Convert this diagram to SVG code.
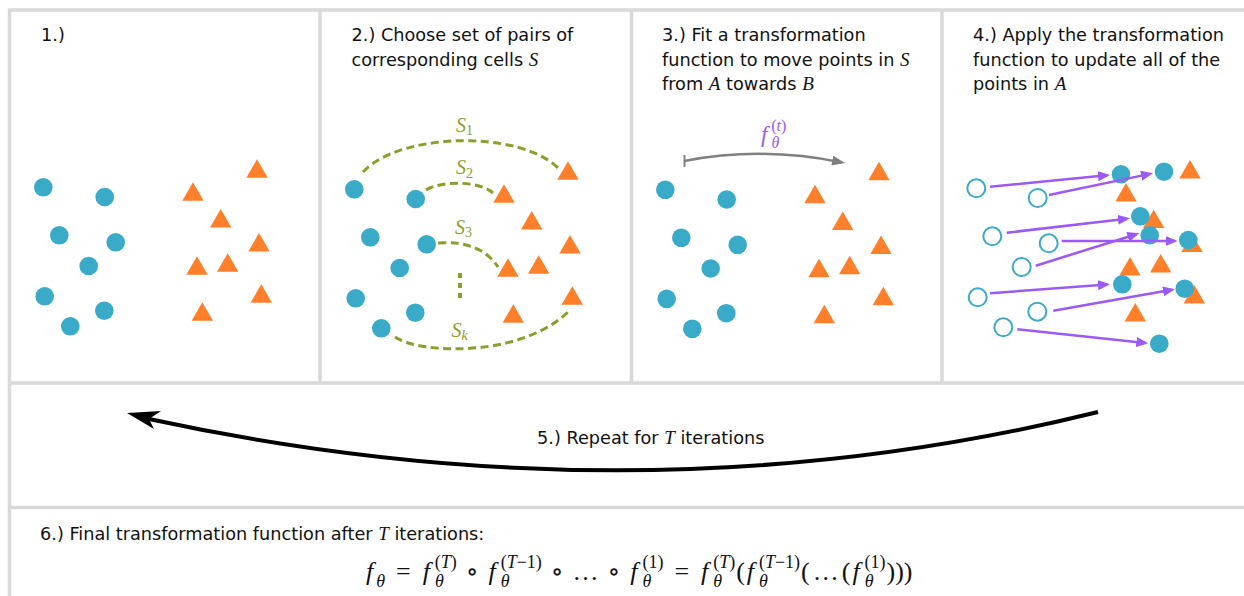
<svg xmlns="http://www.w3.org/2000/svg" xmlns:xlink="http://www.w3.org/1999/xlink" width="1244" height="596" viewBox="0 0 1244 596">
<style>
.txt{font-family:"DejaVu Sans",Verdana,sans-serif;font-size:17.7px;fill:#111}
.mi{font-family:"Liberation Serif","DejaVu Serif",serif;font-style:italic}
.mth{font-family:"Liberation Serif","DejaVu Serif",serif;font-size:26px;fill:#111}
.sb{font-size:18px}
.pt{fill:#39abc9}
.hol{fill:#fff;stroke:#39abc9;stroke-width:2}
.tri{fill:#ff7f2a}
.brd{stroke:#d9d9d9;stroke-width:3.5;fill:none}
.grn{fill:none;stroke:#8c9d2c;stroke-width:3;stroke-dasharray:8 4.5}
.gl{font-family:"Liberation Serif","DejaVu Serif",serif;font-size:20px;fill:#8c9d2c}
.pa{stroke:#9b59f6;stroke-width:2.5;fill:none;marker-end:url(#ph)}
</style>
<defs>
<path id="tr" d="M0,0 L10.7,18.4 L-10.7,18.4 Z"/>
<marker id="ph" markerWidth="12" markerHeight="10" refX="9" refY="5" orient="auto" markerUnits="userSpaceOnUse">
<path d="M0,0 L12,5 L0,10 Z" fill="#9b59f6"/>
</marker>
<marker id="gh" markerWidth="14" markerHeight="10" refX="10" refY="5" orient="auto" markerUnits="userSpaceOnUse">
<path d="M0,0 L13,5 L0,10 Z" fill="#808080"/>
</marker>
</defs>
<rect width="1244" height="596" fill="#fff"/>
<g id="frame">
<path class="brd" d="M9.5,600 V10 H1250"/>
<path class="brd" d="M8,383 H1250 M8,507.5 H1250"/>
<path class="brd" d="M320,10 V383 M631.5,10 V383 M942,10 V383"/>
</g>
<g id="panel1">
<text class="txt" x="41" y="41">1.)</text>
<g class="pt">
<circle cx="43.3" cy="187.3" r="9.3"/><circle cx="104.7" cy="197" r="9.3"/><circle cx="59.3" cy="235.3" r="9.3"/><circle cx="115.7" cy="242.3" r="9.3"/><circle cx="88.7" cy="266" r="9.3"/><circle cx="44.7" cy="296.3" r="9.3"/><circle cx="104.3" cy="310.7" r="9.3"/><circle cx="70.3" cy="326.3" r="9.3"/>
</g>
<g class="tri">
<use xlink:href="#tr" x="257" y="159.3"/><use xlink:href="#tr" x="193" y="182.3"/><use xlink:href="#tr" x="220.7" y="209"/><use xlink:href="#tr" x="259" y="233"/><use xlink:href="#tr" x="197" y="256.3"/><use xlink:href="#tr" x="227.7" y="253.3"/><use xlink:href="#tr" x="261.3" y="284.3"/><use xlink:href="#tr" x="202.3" y="302.3"/>
</g>
</g>
<g id="panel2">
<text class="txt" x="351.5" y="41">2.) Choose set of pairs of</text>
<text class="txt" x="351.5" y="65.5">corresponding cells <tspan class="mi" font-size="19">S</tspan></text>
<g class="pt">
<circle cx="354.3" cy="189.3" r="9.3"/><circle cx="415.7" cy="199" r="9.3"/><circle cx="370.3" cy="237.3" r="9.3"/><circle cx="426.7" cy="244.3" r="9.3"/><circle cx="399.7" cy="268" r="9.3"/><circle cx="355.7" cy="298.3" r="9.3"/><circle cx="415.3" cy="312.7" r="9.3"/><circle cx="381.3" cy="328.3" r="9.3"/>
</g>
<g class="tri">
<use xlink:href="#tr" x="568" y="161.3"/><use xlink:href="#tr" x="504" y="184.3"/><use xlink:href="#tr" x="531.7" y="211"/><use xlink:href="#tr" x="570" y="235"/><use xlink:href="#tr" x="508" y="258.3"/><use xlink:href="#tr" x="538.7" y="255.3"/><use xlink:href="#tr" x="572.3" y="286.3"/><use xlink:href="#tr" x="513.3" y="304.3"/>
</g>
<g id="pairs">
<path class="grn" d="M363,172 C400,132 520,130 558,168"/>
<path class="grn" d="M426,190 C440,181 478,180 493,193"/>
<path class="grn" d="M438,243 Q480,240 498,267"/>
<path class="grn" d="M395,337 C420,354 520,358 568,312"/>
<path d="M460,273 V298" stroke="#8c9d2c" stroke-width="4" stroke-dasharray="5 5"/>
<text class="gl" x="456" y="131.5"><tspan class="mi">S</tspan><tspan font-size="14" dy="3.5">1</tspan></text>
<text class="gl" x="456" y="174"><tspan class="mi">S</tspan><tspan font-size="14" dy="3.5">2</tspan></text>
<text class="gl" x="455" y="233.5"><tspan class="mi">S</tspan><tspan font-size="14" dy="3.5">3</tspan></text>
<text class="gl" x="451.5" y="336.5"><tspan class="mi">S</tspan><tspan class="mi" font-size="14" dy="3.5">k</tspan></text>
</g>
</g>
<g id="panel3">
<text class="txt" x="662" y="41">3.) Fit a transformation</text>
<text class="txt" x="662" y="65.5">function to move points in <tspan class="mi" font-size="19">S</tspan></text>
<text class="txt" x="662" y="90">from <tspan class="mi" font-size="19">A</tspan> towards <tspan class="mi" font-size="19">B</tspan></text>
<g class="pt">
<circle cx="665.3" cy="189.8" r="9.3"/><circle cx="726.7" cy="199.5" r="9.3"/><circle cx="681.3" cy="237.8" r="9.3"/><circle cx="737.7" cy="244.8" r="9.3"/><circle cx="710.7" cy="268.5" r="9.3"/><circle cx="666.7" cy="298.8" r="9.3"/><circle cx="726.3" cy="313.2" r="9.3"/><circle cx="692.3" cy="328.8" r="9.3"/>
</g>
<g class="tri">
<use xlink:href="#tr" x="879" y="161.8"/><use xlink:href="#tr" x="815" y="184.8"/><use xlink:href="#tr" x="842.7" y="211.5"/><use xlink:href="#tr" x="881" y="235.5"/><use xlink:href="#tr" x="819" y="258.8"/><use xlink:href="#tr" x="849.7" y="255.8"/><use xlink:href="#tr" x="883.3" y="286.8"/><use xlink:href="#tr" x="824.3" y="304.8"/>
</g>
<g id="fit">
<path d="M684.5,155 V167" stroke="#808080" stroke-width="2"/>
<path d="M684.5,161 Q762,146 842,162.5" stroke="#808080" stroke-width="2.5" fill="none" marker-end="url(#gh)"/>
<text x="761" y="142" font-family="Liberation Serif, serif" font-size="23" fill="#9b59f6"><tspan class="mi">f</tspan><tspan class="mi" font-size="16" dx="4" dy="6">θ</tspan><tspan font-size="16" dx="-8" dy="-17">(<tspan class="mi">t</tspan>)</tspan></text>
</g>
</g>
<g id="panel4">
<text class="txt" x="973" y="41">4.) Apply the transformation</text>
<text class="txt" x="973" y="65.5">function to update all of the</text>
<text class="txt" x="973" y="90">points in <tspan class="mi" font-size="19">A</tspan></text>
<g class="tri">
<use xlink:href="#tr" x="1190" y="160"/><use xlink:href="#tr" x="1126" y="183"/><use xlink:href="#tr" x="1153.7" y="209.7"/><use xlink:href="#tr" x="1192" y="233.7"/><use xlink:href="#tr" x="1130" y="257"/><use xlink:href="#tr" x="1160.7" y="254"/><use xlink:href="#tr" x="1194.3" y="285"/><use xlink:href="#tr" x="1135.3" y="303"/>
</g>
<g class="hol">
<circle cx="976.3" cy="188.3" r="9"/><circle cx="1037.7" cy="198" r="9"/><circle cx="992.3" cy="236.3" r="9"/><circle cx="1048.7" cy="243.3" r="9"/><circle cx="1021.7" cy="267" r="9"/><circle cx="977.7" cy="297.3" r="9"/><circle cx="1037.3" cy="311.7" r="9"/><circle cx="1003.3" cy="327.3" r="9"/>
</g>
<g class="pt">
<circle cx="1121" cy="174.3" r="9.3"/><circle cx="1164" cy="171.7" r="9.3"/><circle cx="1140.3" cy="216.3" r="9.3"/><circle cx="1149.7" cy="235.3" r="9.3"/><circle cx="1188.3" cy="240" r="9.3"/><circle cx="1122.3" cy="284.3" r="9.3"/><circle cx="1184.7" cy="288.7" r="9.3"/><circle cx="1159.3" cy="343.7" r="9.3"/>
</g>
</g>
<g id="connectors">
<path class="pa" d="M990,186.7 L1107,175.3"/>
<path class="pa" d="M1049,195 L1150,173.9"/>
<path class="pa" d="M1006.7,232.7 L1127,218.7"/>
<path class="pa" d="M1061.7,241 L1174.7,241"/>
<path class="pa" d="M1035.7,265.7 L1136.4,234.2"/>
<path class="pa" d="M990,293.3 L1107,284.5"/>
<path class="pa" d="M1053.3,310.7 L1172,289.8"/>
<path class="pa" d="M1017.3,329.3 L1145.3,343"/>
<path d="M1098,412 Q640,525 149,419" stroke="#000" stroke-width="4" fill="none"/>
<path d="M127,413 L161,411 L149,419 L154,429 Z" fill="#000"/>
</g>
<g id="step5">
<text class="txt" x="537" y="444">5.) Repeat for <tspan class="mi" font-size="19">T</tspan> iterations</text>
</g>
<g id="step6">
<text class="txt" x="40" y="540">6.) Final transformation function after <tspan class="mi" font-size="19">T</tspan> iterations:</text>
<text class="mth" x="366" y="580"><tspan class="mi">f</tspan><tspan class="mi sb" dx="3" dy="7">θ</tspan><tspan dx="11" dy="-7">=</tspan><tspan class="mi" dx="12">f</tspan><tspan class="mi sb" dx="5" dy="7">θ</tspan><tspan class="sb" dx="-9" dy="-19">(<tspan class="mi">T</tspan>)</tspan><tspan dx="9" dy="12">∘</tspan><tspan class="mi" dx="10">f</tspan><tspan class="mi sb" dx="5" dy="7">θ</tspan><tspan class="sb" dx="-9" dy="-19">(<tspan class="mi">T</tspan>−1)</tspan><tspan dx="9" dy="12">∘</tspan><tspan dx="9">…</tspan><tspan dx="9">∘</tspan><tspan class="mi" dx="10">f</tspan><tspan class="mi sb" dx="5" dy="7">θ</tspan><tspan class="sb" dx="-9" dy="-19">(1)</tspan><tspan dx="11" dy="12">=</tspan><tspan class="mi" dx="12">f</tspan><tspan class="mi sb" dx="5" dy="7">θ</tspan><tspan class="sb" dx="-9" dy="-19">(<tspan class="mi">T</tspan>)</tspan><tspan dx="1" dy="12">(</tspan><tspan class="mi" dx="2">f</tspan><tspan class="mi sb" dx="5" dy="7">θ</tspan><tspan class="sb" dx="-9" dy="-19">(<tspan class="mi">T</tspan>−1)</tspan><tspan dx="1" dy="12">(</tspan><tspan dx="3">…</tspan><tspan dx="3">(</tspan><tspan class="mi" dx="2">f</tspan><tspan class="mi sb" dx="5" dy="7">θ</tspan><tspan class="sb" dx="-9" dy="-19">(1)</tspan><tspan dx="1" dy="12">)))</tspan></text>
</g>
</svg>
